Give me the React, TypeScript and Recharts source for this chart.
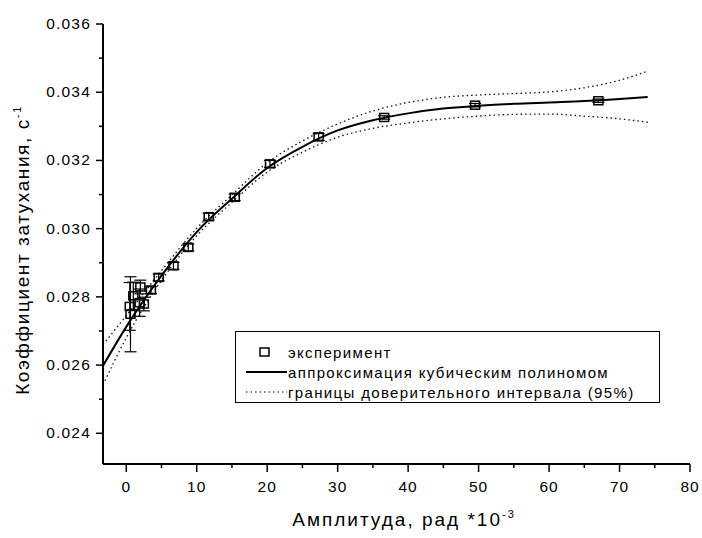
import React from 'react';
import { ComposedChart, Line, Scatter, ErrorBar, XAxis, YAxis, Legend, Label } from 'recharts';

const FONT = '"Liberation Sans", Arial, sans-serif';

// cubic fit curve and 95% band
const fitX = [-3.3, 0, 5, 10, 15, 20, 25, 30, 35, 40, 45, 50, 55, 60, 65, 70, 74];
const fitY = [0.02598, 0.02712, 0.02862, 0.0299, 0.03088, 0.03178, 0.0324, 0.03288, 0.03318, 0.03338, 0.03352, 0.0336, 0.03366, 0.0337, 0.03374, 0.0338, 0.03386];
const upperY = [0.0266, 0.02745, 0.02877, 0.03001, 0.03099, 0.03193, 0.03257, 0.03307, 0.03345, 0.0337, 0.03385, 0.03392, 0.03396, 0.03401, 0.03413, 0.03435, 0.03462];
const lowerY = [0.02542, 0.0268, 0.02848, 0.02979, 0.03077, 0.03166, 0.03224, 0.03268, 0.03294, 0.0331, 0.03322, 0.0333, 0.03335, 0.03336, 0.0333, 0.03322, 0.03312];

// experiment points
const expX = [0.5, 0.6, 1.0, 1.9, 2.0, 2.5, 3.5, 4.6, 6.7, 8.8, 11.7, 15.4, 20.4, 27.3, 36.6, 49.5, 67.0];
const expY = [0.02772, 0.02749, 0.02803, 0.02783, 0.02829, 0.02779, 0.0282, 0.02857, 0.02891, 0.02945, 0.03035, 0.03092, 0.0319, 0.03269, 0.03326, 0.03362, 0.03375];
const expErr = [0.0007, 0.0011, 0.0004, 0.0004, 0.0002, 0.0002, 0.0001, 0.0001, 0.0001, 0.0001, 0.0001, 0.0001, 0.0001, 0.0001, 0.00005, 0.00005, 0.00005];

const xTicks = [0, 5, 10, 15, 20, 25, 30, 35, 40, 45, 50, 55, 60, 65, 70, 75, 80];
const yTicks = [0.024, 0.025, 0.026, 0.027, 0.028, 0.029, 0.03, 0.031, 0.032, 0.033, 0.034, 0.035, 0.036];

const fitData = fitX.map((x, i) => ({ x, fit: fitY[i] }));
const upperData = fitX.map((x, i) => ({ x, upper: upperY[i] }));
const lowerData = fitX.map((x, i) => ({ x, lower: lowerY[i] }));
const expData = expX.map((x, i) => ({ x, y: expY[i], err: expErr[i] }));

function XTick(props: any) {
  const { x, y, payload } = props;
  const major = payload.value % 10 === 0;
  return (
    <g>
      <line x1={x} y1={y} x2={x} y2={y + (major ? 8 : 4)} stroke="#000" strokeWidth={1.5} />
      {major && (
        <text x={x} y={y + 28} textAnchor="middle" fontSize={15.5} letterSpacing={1} fontFamily={FONT} fill="#000">
          {payload.value}
        </text>
      )}
    </g>
  );
}

function YTick(props: any) {
  const { x, y, payload } = props;
  const major = Math.round(payload.value * 1000) % 2 === 0;
  return (
    <g>
      <line x1={x} y1={y} x2={x - (major ? 7 : 4)} y2={y} stroke="#000" strokeWidth={1.5} />
      {major && (
        <text x={x - 12} y={y + 5} textAnchor="end" fontSize={15.5} letterSpacing={1.2} fontFamily={FONT} fill="#000">
          {payload.value.toFixed(3)}
        </text>
      )}
    </g>
  );
}

function SquareDot(props: any) {
  const { cx, cy } = props;
  return <rect x={cx - 4.5} y={cy - 4} width={9} height={8} fill="none" stroke="#000" strokeWidth={1.5} />;
}

function LegendBox() {
  const row = { display: 'flex', alignItems: 'center', height: 20 } as const;
  return (
    <div
      style={{
        border: '1.5px solid #000',
        width: 425,
        height: 72,
        boxSizing: 'border-box',
        padding: '10px 0 0 8px',
        fontFamily: FONT,
        fontSize: 15,
        letterSpacing: 1.35,
        color: '#000',
        background: '#fff',
      }}
    >
      <div style={row}>
        <svg width={44} height={20}>
          <rect x={16} y={6} width={9} height={8} fill="none" stroke="#000" strokeWidth={1.5} />
        </svg>
        <span>эксперимент</span>
      </div>
      <div style={row}>
        <svg width={44} height={20}>
          <line x1={2} y1={10} x2={43} y2={10} stroke="#000" strokeWidth={2} />
        </svg>
        <span>аппроксимация кубическим полиномом</span>
      </div>
      <div style={row}>
        <svg width={44} height={20}>
          <line x1={2} y1={10} x2={43} y2={10} stroke="#000" strokeWidth={1.2} strokeDasharray="1.5 3" />
        </svg>
        <span>границы доверительного интервала (95%)</span>
      </div>
    </div>
  );
}

export default function App() {
  return (
    <div style={{ position: 'absolute', left: 0, top: 0, width: 702, height: 538, background: '#fff' }}>
      <ComposedChart width={702} height={538} margin={{ top: 24, right: 12, bottom: 24, left: 43 }}>
        <XAxis
          dataKey="x"
          type="number"
          domain={[-3.3, 80]}
          ticks={xTicks}
          interval={0}
          allowDataOverflow
          tickLine={false}
          tickSize={0}
          tickMargin={0}
          tick={<XTick />}
          axisLine={{ stroke: '#000', strokeWidth: 2 }}
          height={50}
        >
          <Label
            content={() => (
              <text x={404} y={526} textAnchor="middle" fontSize={19} letterSpacing={2} fontFamily={FONT} fill="#000">
                Амплитуда, рад *10
                <tspan dy={-8} fontSize={11}>
                  -3
                </tspan>
              </text>
            )}
          />
        </XAxis>
        <YAxis
          type="number"
          domain={[0.0231, 0.036]}
          ticks={yTicks}
          interval={0}
          allowDataOverflow
          tickLine={false}
          tickSize={0}
          tickMargin={0}
          tick={<YTick />}
          axisLine={{ stroke: '#000', strokeWidth: 2 }}
          width={60}
        >
          <Label
            content={() => (
              <text
                transform="rotate(-90)"
                x={-250}
                y={29}
                textAnchor="middle"
                fontSize={19}
                letterSpacing={1.6}
                fontFamily={FONT}
                fill="#000"
              >
                Коэффициент затухания, с
                <tspan dy={-8} fontSize={11}>
                  -1
                </tspan>
              </text>
            )}
          />
        </YAxis>
        <Legend
          layout="vertical"
          align="center"
          verticalAlign="middle"
          content={<LegendBox />}
          wrapperStyle={{ left: 235, top: 331, width: 425 }}
        />
        <Line data={upperData} dataKey="upper" type="monotone" stroke="#111" strokeWidth={1.3} strokeDasharray="1.5 3" dot={false} isAnimationActive={false} />
        <Line data={lowerData} dataKey="lower" type="monotone" stroke="#111" strokeWidth={1.3} strokeDasharray="1.5 3" dot={false} isAnimationActive={false} />
        <Line data={fitData} dataKey="fit" type="monotone" stroke="#000" strokeWidth={2} dot={false} isAnimationActive={false} />
        <Scatter data={expData} dataKey="y" shape={<SquareDot />} isAnimationActive={false}>
          <ErrorBar dataKey="err" direction="y" width={6} stroke="#000" strokeWidth={1.2} isAnimationActive={false} />
        </Scatter>
      </ComposedChart>
    </div>
  );
}
